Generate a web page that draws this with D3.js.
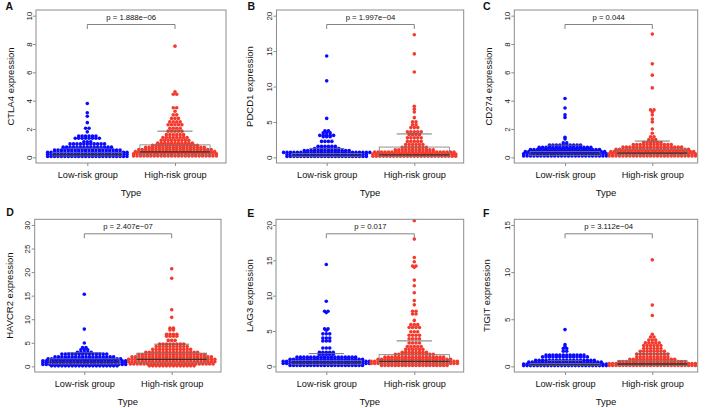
<!DOCTYPE html>
<html><head><meta charset="utf-8">
<script src="https://cdn.jsdelivr.net/npm/d3@7"></script>
<style>
html,body{margin:0;padding:0;background:#fff;}
svg{display:block;font-family:"Liberation Sans",Arial,Helvetica,sans-serif;}
</style></head>
<body>
<svg id="chart" width="709" height="408"></svg>
<script>
// ---------- data ----------
const categories = ["Low-risk group", "High-risk group"];
const genes = ["CTLA4", "PDCD1", "CD274", "HAVCR2", "LAG3", "TIGIT"];
const panelLetters = ["A", "B", "C", "D", "E", "F"];
const pLabels = ["p = 1.888e\u221206", "p = 1.997e\u221204", "p = 0.044", "p = 2.407e\u221207", "p = 0.017", "p = 3.112e\u221204"];
const yMaxValues = [10, 20, 10, 30, 20, 15];
const yTickSteps = [2, 5, 2, 5, 5, 5];

// rows of the swarm: [expression value, number of samples in that row]
const ctla4Low = [[3.8,1],[3.15,1],[2.9,1],[2.45,1],[2.05,2],[1.8,1],[1.5,6],[1.35,8],[1.1,3],[0.95,11],[0.72,15],[0.52,20],[0.36,24],[0.21,24],[0.06,24]];
const ctla4High = [[7.85,1],[4.62,1],[4.45,2],[3.5,2],[3.25,1],[3.0,2],[2.75,3],[2.5,4],[2.3,5],[2.05,4],[1.85,5],[1.6,6],[1.4,8],[1.2,9],[1.0,11],[0.85,14],[0.7,18],[0.55,22],[0.4,24],[0.25,25],[0.1,25]];
const pdcd1Low = [[14.3,1],[10.8,1],[5.5,1],[3.75,2],[3.45,3],[3.1,5],[2.9,3],[2.25,4],[1.55,6],[1.25,8],[0.95,14],[0.7,26],[0.4,24],[0.12,24]];
const pdcd1High = [[17.3,1],[14.6,1],[12.05,1],[7.2,1],[6.8,1],[6.4,1],[5.6,1],[5.0,2],[4.6,2],[4.2,3],[3.6,5],[3.2,4],[2.75,5],[2.25,5],[1.8,6],[1.4,8],[1.05,12],[0.75,24],[0.45,25],[0.15,25]];
const cd274Low = [[4.15,1],[3.48,1],[3.0,1],[2.82,1],[1.42,1],[1.3,1],[1.02,2],[0.86,10],[0.7,16],[0.55,21],[0.4,24],[0.25,25],[0.1,25]];
const cd274High = [[8.7,1],[6.6,1],[5.8,1],[4.9,1],[3.35,2],[3.2,1],[3.0,1],[2.7,1],[2.5,1],[2.0,1],[1.7,1],[1.45,2],[1.25,3],[1.05,6],[0.9,12],[0.72,18],[0.56,22],[0.4,25],[0.25,26],[0.1,26]];
const havcr2Low = [[15.3,1],[7.9,1],[4.95,1],[4.0,2],[3.5,3],[3.0,5],[2.6,14],[2.0,18],[1.6,22],[1.2,25],[0.8,25],[0.4,25],[0.1,20]];
const havcr2High = [[20.7,1],[18.7,1],[12.0,1],[10.4,1],[8.1,2],[7.7,2],[6.8,4],[6.4,4],[5.5,3],[4.75,8],[4.2,10],[3.6,12],[3.0,16],[2.5,20],[2.0,24],[1.5,26],[1.0,26],[0.5,25],[0.1,14]];
const lag3Low = [[14.4,1],[9.2,1],[7.8,2],[7.6,1],[5.3,2],[5.1,1],[4.6,3],[4.0,3],[3.6,3],[2.6,3],[2.0,5],[1.7,5],[1.3,18],[1.0,22],[0.7,26],[0.4,26],[0.12,22]];
const lag3High = [[20.6,1],[18.0,1],[15.4,1],[14.8,1],[14.2,2],[14.0,1],[12.2,1],[11.4,1],[10.4,1],[9.3,1],[8.7,1],[7.8,2],[7.4,2],[6.5,1],[5.9,3],[5.5,4],[4.9,3],[4.4,4],[3.9,4],[3.3,4],[2.8,5],[2.4,6],[2.0,8],[1.7,12],[1.3,18],[1.0,22],[0.7,26],[0.4,26],[0.12,20]];
const tigitLow = [[3.9,1],[2.3,1],[2.1,1],[1.9,2],[1.6,2],[1.2,12],[1.0,14],[0.65,18],[0.45,22],[0.25,25],[0.08,25]];
const tigitHigh = [[11.3,1],[6.5,1],[5.4,1],[3.4,1],[3.1,2],[2.8,3],[2.5,5],[2.2,6],[1.9,6],[1.6,8],[1.3,10],[1.0,10],[0.75,14],[0.5,20],[0.3,26],[0.1,26]];

// box statistics: [Q1, median, Q3, upper whisker]
const boxLow = [[0.1,0.18,0.33,0.65],[0.1,0.25,0.55,1.25],[0.12,0.25,0.42,0.85],[0.5,0.9,1.6,2.9],[0.3,0.55,0.85,1.8],[0.08,0.15,0.3,0.62]];
const boxHigh = [[0.12,0.38,0.88,1.85],[0.15,0.35,1.45,3.3],[0.15,0.3,0.55,1.15],[0.8,1.5,2.8,4.7],[0.35,0.7,1.65,3.6],[0.1,0.25,0.6,1.32]];

const lowRows = [ctla4Low, pdcd1Low, cd274Low, havcr2Low, lag3Low, tigitLow];
const highRows = [ctla4High, pdcd1High, cd274High, havcr2High, lag3High, tigitHigh];

// ---------- layout ----------
const layout = [
  {boxL:36,   boxR:226,   top:10,    bottom:163, lowX:87.3,  highX:175,   letterX:5.5,   letterY:10,   ylabX:10.7},
  {boxL:276.5,boxR:463.7, top:10,    bottom:163, lowX:326.7, highX:414.3, letterX:247.5, letterY:9.8,  ylabX:249.3},
  {boxL:514.3,boxR:697.7, top:10,    bottom:163, lowX:565,   highX:652.3, letterX:483,   letterY:10,   ylabX:488.3},
  {boxL:34.7, boxR:221,   top:219.3, bottom:372, lowX:84.3,  highX:171.7, letterX:6.3,   letterY:216.3,ylabX:10},
  {boxL:276,  boxR:463.7, top:219.3, bottom:372, lowX:326.3, highX:414.3, letterX:247.3, letterY:216.7,ylabX:249.3},
  {boxL:514.3,boxR:697.7, top:219.3, bottom:372, lowX:565,   highX:652.3, letterX:483,   letterY:216.7,ylabX:486.7}
];
const colors = ["#0a0aff", "#f43a2c"];
const dotStep = 3.45, dotR = 1.8;
const gray = "#8c8c8c";
const ink = "#111";

const svg = d3.select("#chart");

layout.forEach((L, p) => {
  const g = svg.append("g");
  const ymax = yMaxValues[p];
  const y = d3.scaleLinear().domain([-0.04 * ymax, 1.04 * ymax]).range([L.bottom, L.top]);
  const x = d3.scalePoint().domain(categories).range([L.lowX, L.highX]);
  const spacing = L.highX - L.lowX;

  // points
  [lowRows[p], highRows[p]].forEach((rows, gi) => {
    const pts = [];
    rows.forEach(([v, n]) => {
      for (let i = 0; i < n; i++) pts.push({v, off: (i - (n - 1) / 2) * dotStep});
    });
    g.append("g").selectAll("circle").data(pts).join("circle")
      .attr("cx", d => x(categories[gi]) + d.off)
      .attr("cy", d => y(d.v))
      .attr("r", dotR)
      .attr("fill", colors[gi]);
  });

  // box overlays
  [boxLow[p], boxHigh[p]].forEach((b, gi) => {
    const cx = x(categories[gi]);
    const bw = spacing * 0.8, cw = bw / 2;
    const bg = g.append("g").attr("fill", "none");
    bg.append("rect").attr("x", cx - bw / 2).attr("y", y(b[2]))
      .attr("width", bw).attr("height", y(b[0]) - y(b[2]))
      .attr("stroke", "#7a7a7a").attr("stroke-width", 0.8);
    bg.append("line").attr("x1", cx - bw / 2).attr("x2", cx + bw / 2)
      .attr("y1", y(b[1])).attr("y2", y(b[1])).attr("stroke", "#333").attr("stroke-width", 1.3);
    bg.append("line").attr("x1", cx - cw / 2).attr("x2", cx + cw / 2)
      .attr("y1", y(b[3])).attr("y2", y(b[3])).attr("stroke", "#666").attr("stroke-width", 0.9);
  });

  // frame
  g.append("rect").attr("x", L.boxL).attr("y", L.top)
    .attr("width", L.boxR - L.boxL).attr("height", L.bottom - L.top)
    .attr("fill", "none").attr("stroke", gray).attr("stroke-width", 1);

  // y axis
  const ticks = d3.range(0, ymax + 0.001, yTickSteps[p]);
  const ya = g.append("g").attr("transform", `translate(${L.boxL},0)`)
    .call(d3.axisLeft(y).tickValues(ticks).tickSize(3).tickFormat(d3.format("d")));
  ya.select(".domain").remove();
  ya.selectAll(".tick line").attr("stroke", gray);
  ya.selectAll(".tick text")
    .attr("x", null).attr("dy", null)
    .attr("text-anchor", "middle")
    .attr("transform", "translate(-4.5,0) rotate(-90)")
    .attr("font-size", 8).attr("fill", "#222").attr("font-family", null);

  // x axis
  const xa = g.append("g").attr("transform", `translate(0,${L.bottom})`)
    .call(d3.axisBottom(x).tickSize(3).tickPadding(6));
  xa.select(".domain").remove();
  xa.selectAll(".tick line").attr("stroke", gray);
  xa.selectAll(".tick text").attr("font-size", 9.2).attr("fill", ink)
    .attr("font-family", null).attr("dy", null).attr("y", 15.3);

  // axis titles
  g.append("text").attr("x", (L.boxL + L.boxR) / 2).attr("y", L.bottom + 32.8)
    .attr("text-anchor", "middle").attr("font-size", 9.5).attr("fill", ink).text("Type");
  g.append("text").attr("transform", `translate(${L.ylabX + 3.4},${(L.top + L.bottom) / 2}) rotate(-90)`)
    .attr("text-anchor", "middle").attr("font-size", 9.5).attr("fill", ink).text(genes[p] + " expression");

  // significance bracket
  const by = L.top + 14.5;
  g.append("path")
    .attr("d", `M${x(categories[0])},${by + 4.5}V${by}H${x(categories[1])}V${by + 4.5}`)
    .attr("fill", "none").attr("stroke", "#777").attr("stroke-width", 0.9);
  g.append("text").attr("x", (x(categories[0]) + x(categories[1])) / 2).attr("y", L.top + 9.8)
    .attr("text-anchor", "middle").attr("font-size", 7.7).attr("fill", ink).text(pLabels[p]);

  // panel letter
  g.append("text").attr("x", L.letterX).attr("y", L.letterY)
    .attr("font-size", 10.5).attr("font-weight", "bold").attr("fill", "#111").text(panelLetters[p]);
});
</script>
</body></html>
